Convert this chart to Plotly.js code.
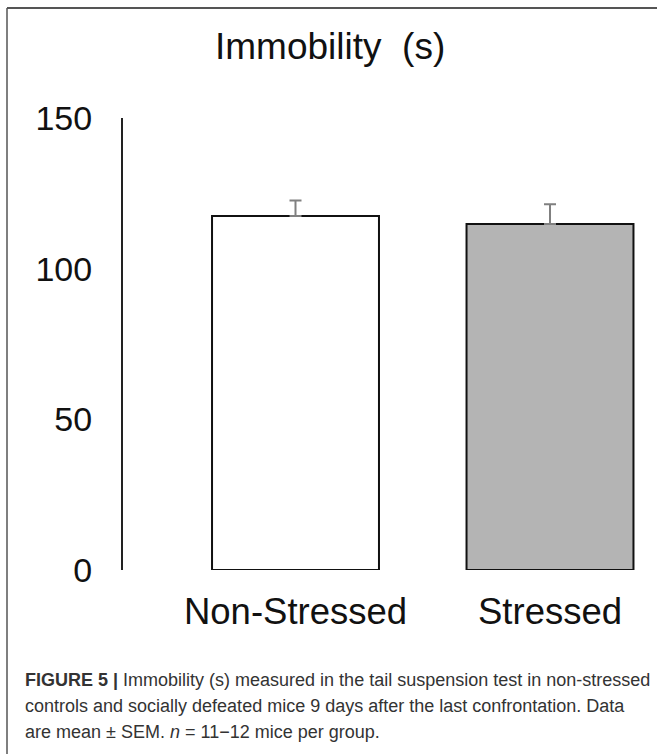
<!DOCTYPE html>
<html>
<head>
<meta charset="utf-8">
<script src="https://cdn.plot.ly/plotly-3.0.1.min.js"></script>
<style>
  html, body { margin: 0; padding: 0; background: #ffffff; }
  #chart { width: 657px; height: 754px; }
</style>
</head>
<body>
<div id="chart"></div>
<script>
// ---- data ----
const categories = ["Non-Stressed", "Stressed"];
const immobilityMean = [117.5, 114.8];
const immobilitySEM = [5.1, 6.6];
const barColors = ["#ffffff", "#b4b4b4"];
const yTickValues = [0, 50, 100, 150];
const yTickLabels = ["0", "50", "100", "150"];
const chartTitle = "Immobility\u00a0 (s)";
const captionLines = [
  "<b>FIGURE 5 |</b> Immobility (s) measured in the tail suspension test in non-stressed",
  "controls and socially defeated mice 9 days after the last confrontation. Data",
  "are mean \u00b1 SEM. <i>n</i> = 11\u221212 mice per group."
];

// ---- layout helpers (pixel -> paper) ----
const W = 657, H = 754;
const px = v => v / W;
const py = v => 1 - v / H;

const trace = {
  type: "bar",
  x: categories,
  y: immobilityMean,
  width: 0.656,
  marker: {
    color: barColors,
    line: { color: "#111111", width: 2 }
  },
  error_y: {
    type: "data",
    array: immobilitySEM,
    symmetric: false,
    arrayminus: [0, 0],
    color: "#808080",
    thickness: 2,
    width: 6
  },
  hoverinfo: "skip"
};

const FONT = "Liberation Sans, Arial, sans-serif";

const annotations = [
  {
    text: chartTitle, xref: "paper", yref: "paper",
    x: px(330), y: py(47), xanchor: "center", yanchor: "middle",
    showarrow: false, font: { family: FONT, size: 37, color: "#111111" }
  }
];
const capY = [680, 706, 732];
captionLines.forEach((t, i) => {
  annotations.push({
    text: t, xref: "paper", yref: "paper",
    x: px(23), y: py(capY[i]), xanchor: "left", yanchor: "middle",
    showarrow: false, align: "left",
    font: { family: FONT, size: 18, color: "#333333" }
  });
});

const layout = {
  width: W, height: H,
  margin: { l: 0, r: 0, t: 0, b: 0, pad: 0 },
  paper_bgcolor: "#ffffff",
  plot_bgcolor: "rgba(0,0,0,0)",
  showlegend: false,
  font: { family: FONT, color: "#111111" },
  xaxis: {
    domain: [px(123), 1],
    range: [-0.6778, 1.4204],
    showline: false, showgrid: false, zeroline: false,
    ticks: "",
    tickfont: { family: FONT, size: 36.5, color: "#111111" },
    ticklabelstandoff: 16,
    fixedrange: true
  },
  yaxis: {
    domain: [py(570), py(118)],
    range: [0, 150],
    showline: true, linecolor: "#222222", linewidth: 2,
    showgrid: false, zeroline: false,
    ticks: "",
    tickmode: "array", tickvals: yTickValues, ticktext: yTickLabels,
    tickfont: { family: FONT, size: 34, color: "#111111" },
    ticklabelstandoff: 22,
    fixedrange: true
  },
  annotations: annotations,
  shapes: [
    { type: "line", xref: "paper", yref: "paper", x0: px(7), x1: 1, y0: py(8), y1: py(8),
      line: { color: "#555555", width: 2 } },
    { type: "line", xref: "paper", yref: "paper", x0: px(7), x1: px(7), y0: py(8), y1: 0,
      line: { color: "#555555", width: 1.5 } }
  ]
};

Plotly.newPlot("chart", [trace], layout, { displayModeBar: false, staticPlot: true });
</script>
</body>
</html>
